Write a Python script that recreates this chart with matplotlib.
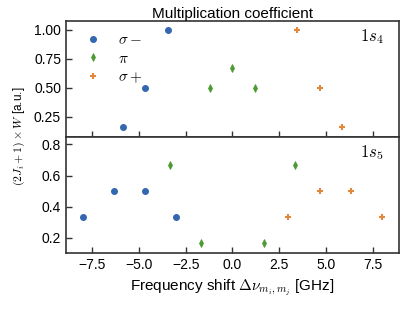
import numpy as np
import matplotlib
matplotlib.use("Agg")
import matplotlib.pyplot as plt

plt.rcParams['font.family'] = ['Liberation Sans', 'DejaVu Sans']
plt.rcParams['mathtext.fontset'] = 'cm'

# 1s4 panel
s4_sm_x = [-5.87, -4.67, -3.45]
s4_sm_y = [1/6, 0.5, 1.0]
s4_pi_x = [-1.2, 0.0, 1.2]
s4_pi_y = [0.5, 2/3, 0.5]
s4_sp_x = [3.45, 4.67, 5.87]
s4_sp_y = [1.0, 0.5, 1/6]

# 1s5 panel
s5_sm_x = [-8.0, -6.33, -4.67, -3.0]
s5_sm_y = [1/3, 0.5, 0.5, 1/3]
s5_pi_x = [-3.33, -1.67, 1.67, 3.33]
s5_pi_y = [2/3, 1/6, 1/6, 2/3]
s5_sp_x = [3.0, 4.67, 6.33, 8.0]
s5_sp_y = [1/3, 0.5, 0.5, 1/3]

c_blue = '#3467b0'
c_green = '#4a9a2e'
c_orange = '#e3883a'

fig, (ax1, ax2) = plt.subplots(2, 1, sharex=True, figsize=(4.15, 3.11), dpi=100)
fig.subplots_adjust(left=0.159, right=0.961, top=0.933, bottom=0.1875, hspace=0)

def draw(ax, smx, smy, pix, piy, spx, spy):
    ax.plot(smx, smy, 'o', color=c_blue, ms=4, ls='none', label=r'$\sigma-$')
    ax.plot(pix, piy, 'd', color=c_green, ms=4, mew=0.5, ls='none', label=r'$\pi$')
    ax.plot(spx, spy, '+', color=c_orange, ms=5, mew=1.5, ls='none', label=r'$\sigma+$')
    for s in ax.spines.values():
        s.set_color('#333333')
        s.set_linewidth(1.2)
    ax.tick_params(direction='in', length=4, width=1, color='#333333', labelsize=10)

draw(ax1, s4_sm_x, s4_sm_y, s4_pi_x, s4_pi_y, s4_sp_x, s4_sp_y)
draw(ax2, s5_sm_x, s5_sm_y, s5_pi_x, s5_pi_y, s5_sp_x, s5_sp_y)

ax1.set_ylim(0.08, 1.075)
ax1.set_yticks([0.25, 0.5, 0.75, 1.0])
ax2.set_ylim(0.104, 0.849)
ax2.set_yticks([0.2, 0.4, 0.6, 0.8])
ax2.set_xlim(-8.9, 8.9)
ax2.set_xticks([-7.5, -5.0, -2.5, 0.0, 2.5, 5.0, 7.5])

ax1.text(0.953, 0.86, r'$1s_4$', transform=ax1.transAxes, ha='right', va='center', fontsize=12)
ax2.text(0.953, 0.86, r'$1s_5$', transform=ax2.transAxes, ha='right', va='center', fontsize=12)

ax1.legend(loc='upper left', frameon=False, fontsize=11, handletextpad=0.6,
           borderaxespad=0.4, labelspacing=0.3)

ax1.set_title('Multiplication coefficient', fontsize=11, pad=2)
ax2.set_xlabel(r'Frequency shift $\Delta\nu_{m_i,m_j}$ [GHz]', fontsize=11)
fig.text(0.046, 0.563, r'$(2J_i+1)\times W$ [a.u.]', rotation=90, ha='center', va='center', fontsize=8.5)

fig.savefig('out.png', dpi=100)
